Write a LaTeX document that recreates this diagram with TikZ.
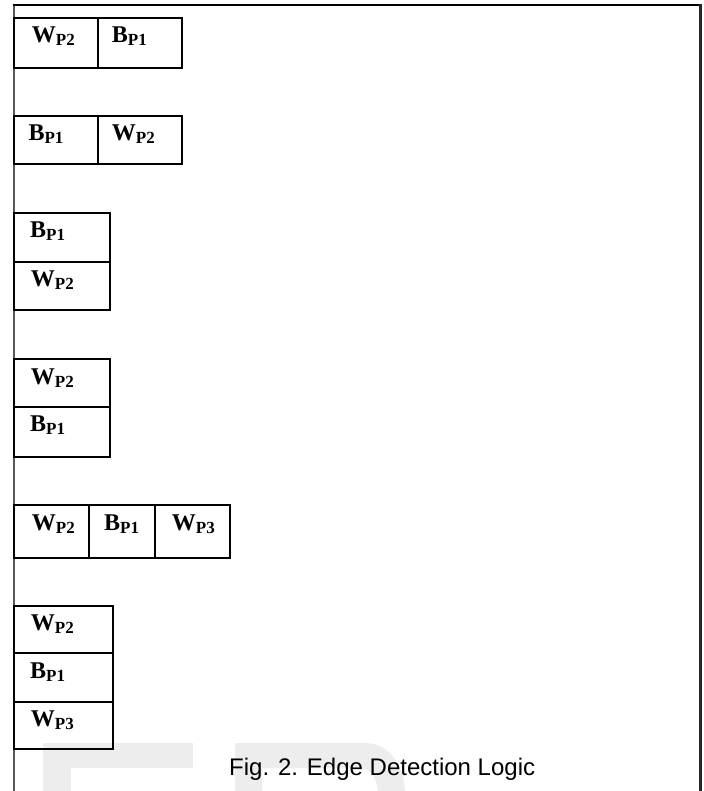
\documentclass[tikz,border=0pt]{standalone}
\usepackage{fontspec}
\setmainfont{Liberation Serif}
\newfontfamily\capfont{Liberation Sans}
\newcommand{\wlab}[2]{\fontsize{24}{24}\selectfont\bfseries #1\raisebox{-3pt}{\fontsize{17}{17}\selectfont #2}}
\begin{document}
\begin{tikzpicture}[x=1pt,y=-1pt,
  cellbox/.style={draw=black, line width=2pt, inner sep=0pt, outer sep=0pt, anchor=north west},
  celltext/.style={inner sep=0pt, anchor=base west},
  wmark/.style={fill=black!7, draw=none}]
\useasboundingbox (0,0) rectangle (703,791);
\fill[white] (0,0) rectangle (703,791);
% watermark
\fill[wmark] (43,743) rectangle (193,768);
\fill[wmark] (43,743) rectangle (71,791);
\fill[wmark] (235,743) -- (365,743) .. controls (386,743) and (403,760) .. (405,791)
  -- (378,791) .. controls (376,777) and (372,768) .. (358,768) -- (262,768) -- (262,791) -- (235,791) -- cycle;
% frame
\draw[black!65, line width=2pt] (13.5,5) -- (13.5,791);
\draw[black, line width=2pt] (12.5,5) -- (700,5);
\draw[black!85, line width=3pt] (700,4) -- (700,791);
% row 1
\node[cellbox, minimum width=84.8pt, minimum height=50pt] (r1a) at (13.5,17.7) {};
\node[cellbox, minimum width=83.4pt, minimum height=50pt] (r1b) at (98.3,17.7) {};
\node[celltext] (t1a) at ([shift={(18.2,25)}]r1a.north west) {\wlab{W}{P2}};
\node[celltext] (t1b) at ([shift={(13.4,25)}]r1b.north west) {\wlab{B}{P1}};
% row 2
\node[cellbox, minimum width=84.8pt, minimum height=48pt] (r2a) at (13.5,116) {};
\node[cellbox, minimum width=83.4pt, minimum height=48pt] (r2b) at (98.3,116) {};
\node[celltext] (t2a) at ([shift={(14.8,25)}]r2a.north west) {\wlab{B}{P1}};
\node[celltext] (t2b) at ([shift={(13.4,25)}]r2b.north west) {\wlab{W}{P2}};
% row 3
\node[cellbox, minimum width=96.5pt, minimum height=49pt] (r3a) at (13.5,212.7) {};
\node[cellbox, minimum width=96.5pt, minimum height=48.3pt] (r3b) at (13.5,261.7) {};
\node[celltext] (t3a) at ([shift={(16.5,25)}]r3a.north west) {\wlab{B}{P1}};
\node[celltext] (t3b) at ([shift={(17.2,25)}]r3b.north west) {\wlab{W}{P2}};
% row 4
\node[cellbox, minimum width=96.5pt, minimum height=47.7pt] (r4a) at (13.5,359) {};
\node[cellbox, minimum width=96.5pt, minimum height=50pt] (r4b) at (13.5,406.7) {};
\node[celltext] (t4a) at ([shift={(17.2,25)}]r4a.north west) {\wlab{W}{P2}};
\node[celltext] (t4b) at ([shift={(16.5,25)}]r4b.north west) {\wlab{B}{P1}};
% row 5
\node[cellbox, minimum width=75.5pt, minimum height=52.7pt] (r5a) at (13.5,505) {};
\node[cellbox, minimum width=66pt, minimum height=52.7pt] (r5b) at (89,505) {};
\node[cellbox, minimum width=75pt, minimum height=52.7pt] (r5c) at (155,505) {};
\node[celltext] (t5a) at ([shift={(18.2,25)}]r5a.north west) {\wlab{W}{P2}};
\node[celltext] (t5b) at ([shift={(15,25)}]r5b.north west) {\wlab{B}{P1}};
\node[celltext] (t5c) at ([shift={(16.7,25)}]r5c.north west) {\wlab{W}{P3}};
% row 6
\node[cellbox, minimum width=99.8pt, minimum height=47.6pt] (r6a) at (13.5,605.7) {};
\node[cellbox, minimum width=99.8pt, minimum height=48.4pt] (r6b) at (13.5,653.3) {};
\node[cellbox, minimum width=99.8pt, minimum height=47.6pt] (r6c) at (13.5,701.7) {};
\node[celltext] (t6a) at ([shift={(17.2,25)}]r6a.north west) {\wlab{W}{P2}};
\node[celltext] (t6b) at ([shift={(16.5,25)}]r6b.north west) {\wlab{B}{P1}};
\node[celltext] (t6c) at ([shift={(17.2,25)}]r6c.north west) {\wlab{W}{P3}};
% caption
\node[inner sep=0pt, anchor=base west, font=\capfont\fontsize{24}{24}\selectfont] (cap) at (229,775) {Fig. 2. Edge Detection Logic};
\end{tikzpicture}
\end{document}
